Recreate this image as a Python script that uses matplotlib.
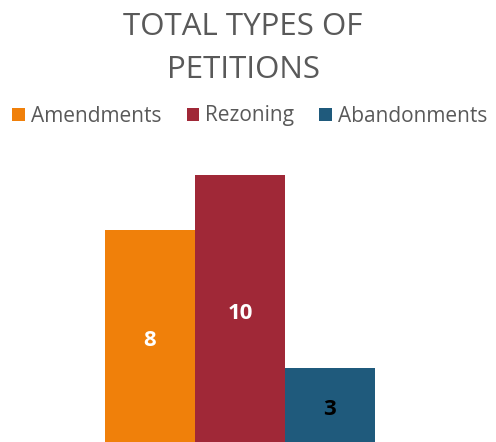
import matplotlib
matplotlib.use("Agg")
import matplotlib.pyplot as plt

# ---------- Data ----------
categories = ["Amendments", "Rezoning", "Abandonments"]
values = [8, 10, 3]
colors = ["#F0800A", "#A02837", "#1F5A7C"]
label_colors = ["white", "white", "black"]
title_lines = ["TOTAL TYPES OF", "PETITIONS"]

plt.rcParams["font.family"] = ["Open Sans", "DejaVu Sans"]

W, H = 496, 442
fig = plt.figure(figsize=(W / 100, H / 100), dpi=100)
# axes run a little below the figure edge, like the cropped original
ax = fig.add_axes([105 / W, -0.0213, 270 / W, 0.626])

bars = ax.bar(range(len(values)), values, width=1.0, color=colors,
              label=categories)
ax.set_xlim(-0.5, len(values) - 0.5)
ax.set_ylim(0, 10)
ax.axis("off")

for b, v, c in zip(bars, values, label_colors):
    ax.text(b.get_x() + b.get_width() / 2, v / 2, str(v), ha="center",
            va="center", color=c, fontsize=16, fontweight="bold")

# title, one line at a time (baselines at 35 px and 78 px from top)
for line, base in zip(title_lines, [35, 78]):
    fig.text(243 / W, 1 - base / H, line, ha="center", va="baseline",
             fontsize=22.5, color="#595959")

fig.legend(handles=bars, labels=categories, loc="center",
           bbox_to_anchor=(250 / W, 1 - 116 / H), ncol=3, frameon=False,
           fontsize=15, handlelength=0.6, handleheight=0.6,
           handletextpad=0.3, columnspacing=1.2, labelcolor="#595959")

fig.savefig("out.png", dpi=100)
